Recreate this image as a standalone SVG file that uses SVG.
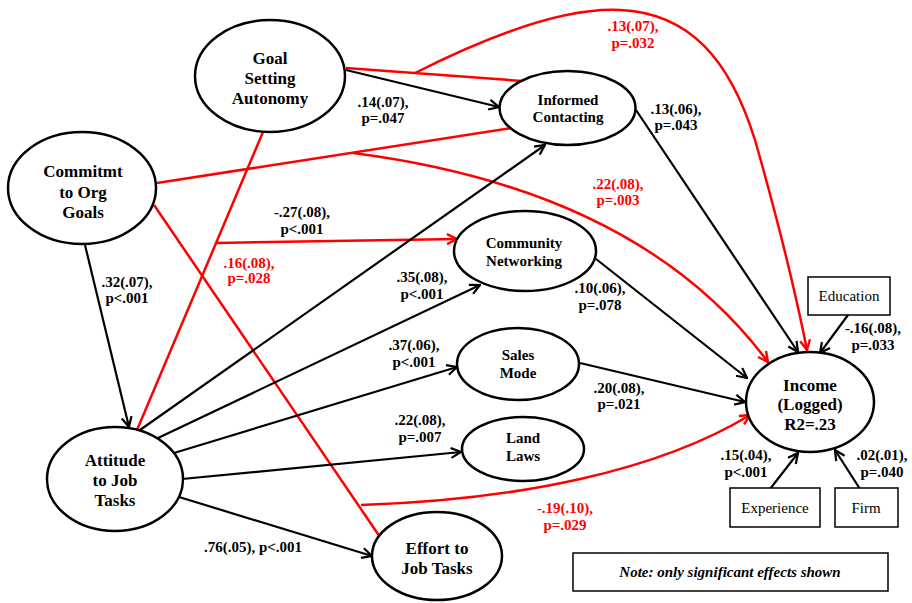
<svg xmlns="http://www.w3.org/2000/svg" width="912" height="603" viewBox="0 0 912 603">
<style>
.node ellipse{fill:#fff;stroke:#000;stroke-width:2.5}
.box rect{fill:#fff;stroke:#000;stroke-width:1.5}
text{font-family:"Liberation Serif","Times New Roman",serif;text-anchor:middle}
.nl{font-weight:bold;font-size:17px}
.ns{font-weight:bold;font-size:15px}
.bx{font-size:15px}
.lab{font-weight:bold;font-size:15px}
.red{fill:#ff0000}
.blk{fill:none;stroke:#000;stroke-width:2.2}
.rl{fill:none;stroke:#ff0000;stroke-width:2.5}
.note{font-weight:bold;font-style:italic;font-size:15px}
</style>
<defs>
<marker id="ab" viewBox="0 0 12 12" refX="11" refY="6" markerWidth="12" markerHeight="12" markerUnits="userSpaceOnUse" orient="auto">
<path d="M1,1 L11,6 L1,11" fill="none" stroke="#000" stroke-width="2.2"/>
</marker>
<marker id="ar" viewBox="0 0 12 12" refX="11" refY="6" markerWidth="12" markerHeight="12" markerUnits="userSpaceOnUse" orient="auto">
<path d="M1,1 L11,6 L1,11" fill="none" stroke="#ff0000" stroke-width="2.4"/>
</marker>
</defs>
<rect width="912" height="603" fill="#fff"/>
<g id="connectors">
<path class="rl" d="M346,68 L522,81"/>
<path class="rl" d="M415,73 C520,20 580,8 620,10 C690,13 730,60 755,140 C775,210 795,290 807,350" marker-end="url(#ar)"/>
<path class="rl" d="M157,183 L511,128"/>
<path class="rl" d="M353,153 Q640,190 768,362" marker-end="url(#ar)"/>
<path class="rl" d="M263,132 L137,430"/>
<path class="rl" d="M216,243 L457,239" marker-end="url(#ar)"/>
<path class="rl" d="M154,205 L380,537"/>
<path class="rl" d="M361,505 C520,500 660,470 750,415" marker-end="url(#ar)"/>
<path class="blk" d="M346,70 L499,107" marker-end="url(#ab)"/>
<path class="blk" d="M636,110 L798,352" marker-end="url(#ab)"/>
<path class="blk" d="M85,245 L129,427" marker-end="url(#ab)"/>
<path class="blk" d="M140,430 L545,145" marker-end="url(#ab)"/>
<path class="blk" d="M158,438 L480,285" marker-end="url(#ab)"/>
<path class="blk" d="M174,453 L457,367" marker-end="url(#ab)"/>
<path class="blk" d="M182,479 L461,452" marker-end="url(#ab)"/>
<path class="blk" d="M179,497 L372,556" marker-end="url(#ab)"/>
<path class="blk" d="M596,259 L747,378" marker-end="url(#ab)"/>
<path class="blk" d="M580,363 L745,402" marker-end="url(#ab)"/>
<path class="blk" d="M848,315 L820,353" marker-end="url(#ab)"/>
<path class="blk" d="M770,489 L798,453" marker-end="url(#ab)"/>
<path class="blk" d="M860,489 L835,450" marker-end="url(#ab)"/>
</g>
<g id="labels">
<text class="lab" x="383" y="107">.14(.07),</text><text class="lab" x="383" y="123">p=.047</text>
<text class="lab red" x="633" y="31">.13(.07),</text><text class="lab red" x="633" y="48">p=.032</text>
<text class="lab" x="676" y="114">.13(.06),</text><text class="lab" x="676" y="130">p=.043</text>
<text class="lab red" x="618" y="189">.22(.08),</text><text class="lab red" x="618" y="205">p=.003</text>
<text class="lab" x="302" y="217">-.27(.08),</text><text class="lab" x="302" y="234">p&lt;.001</text>
<text class="lab red" x="249" y="268">.16(.08),</text><text class="lab red" x="249" y="283">p=.028</text>
<text class="lab" x="127" y="287">.32(.07),</text><text class="lab" x="127" y="303">p&lt;.001</text>
<text class="lab" x="422" y="282">.35(.08),</text><text class="lab" x="422" y="299">p&lt;.001</text>
<text class="lab" x="600" y="293">.10(.06),</text><text class="lab" x="600" y="310">p=.078</text>
<text class="lab" x="873" y="333">-.16(.08),</text><text class="lab" x="873" y="350">p=.033</text>
<text class="lab" x="619" y="393">.20(.08),</text><text class="lab" x="619" y="409">p=.021</text>
<text class="lab" x="414" y="350">.37(.06),</text><text class="lab" x="414" y="367">p&lt;.001</text>
<text class="lab" x="420" y="425">.22(.08),</text><text class="lab" x="420" y="442">p=.007</text>
<text class="lab" x="253" y="552">.76(.05), p&lt;.001</text>
<text class="lab red" x="565" y="513">-.19(.10),</text><text class="lab red" x="565" y="530">p=.029</text>
<text class="lab" x="746" y="460">.15(.04),</text><text class="lab" x="746" y="477">p&lt;.001</text>
<text class="lab" x="882" y="460">.02(.01),</text><text class="lab" x="882" y="477">p=.040</text>
</g>
<g id="goal" class="node"><ellipse cx="270" cy="76" rx="75" ry="56"/>
<text class="nl" x="270" y="64">Goal</text><text class="nl" x="270" y="84">Setting</text><text class="nl" x="270" y="104">Autonomy</text></g>
<g id="informed" class="node"><ellipse cx="567.5" cy="108" rx="68" ry="37"/>
<text class="ns" x="568" y="105">Informed</text><text class="ns" x="568" y="122">Contacting</text></g>
<g id="commit" class="node"><ellipse cx="82" cy="188" rx="74" ry="56"/>
<text class="nl" x="83" y="177">Commitmt</text><text class="nl" x="83" y="198">to Org</text><text class="nl" x="83" y="218">Goals</text></g>
<g id="community" class="node"><ellipse cx="525" cy="251" rx="71" ry="40"/>
<text class="ns" x="524" y="248">Community</text><text class="ns" x="524" y="266">Networking</text></g>
<g id="sales" class="node"><ellipse cx="518" cy="364" rx="61" ry="36"/>
<text class="ns" x="518" y="360">Sales</text><text class="ns" x="518" y="378">Mode</text></g>
<g id="land" class="node"><ellipse cx="523" cy="449" rx="61" ry="32"/>
<text class="ns" x="523" y="443">Land</text><text class="ns" x="523" y="461">Laws</text></g>
<g id="income" class="node"><ellipse cx="810" cy="402" rx="64" ry="50"/>
<text class="nl" x="810" y="391">Income</text><text class="nl" x="810" y="410">(Logged)</text><text class="nl" x="810" y="430">R2=.23</text></g>
<g id="attitude" class="node"><ellipse cx="115" cy="479" rx="68" ry="52"/>
<text class="nl" x="115" y="466">Attitude</text><text class="nl" x="115" y="486">to Job</text><text class="nl" x="115" y="506">Tasks</text></g>
<g id="effort" class="node"><ellipse cx="437" cy="556" rx="65" ry="44"/>
<text class="nl" x="437" y="554">Effort to</text><text class="nl" x="437" y="574">Job Tasks</text></g>
<g id="education" class="box"><rect x="808" y="277" width="82" height="38"/><text class="bx" x="849" y="301">Education</text></g>
<g id="experience" class="box"><rect x="730" y="488" width="90" height="39"/><text class="bx" x="775" y="513">Experience</text></g>
<g id="firm" class="box"><rect x="835" y="488" width="63" height="39"/><text class="bx" x="866" y="513">Firm</text></g>
<g id="note" class="box"><rect x="573" y="553" width="315" height="38"/><text class="note" x="730" y="577">Note: only significant effects shown</text></g>
</svg>
